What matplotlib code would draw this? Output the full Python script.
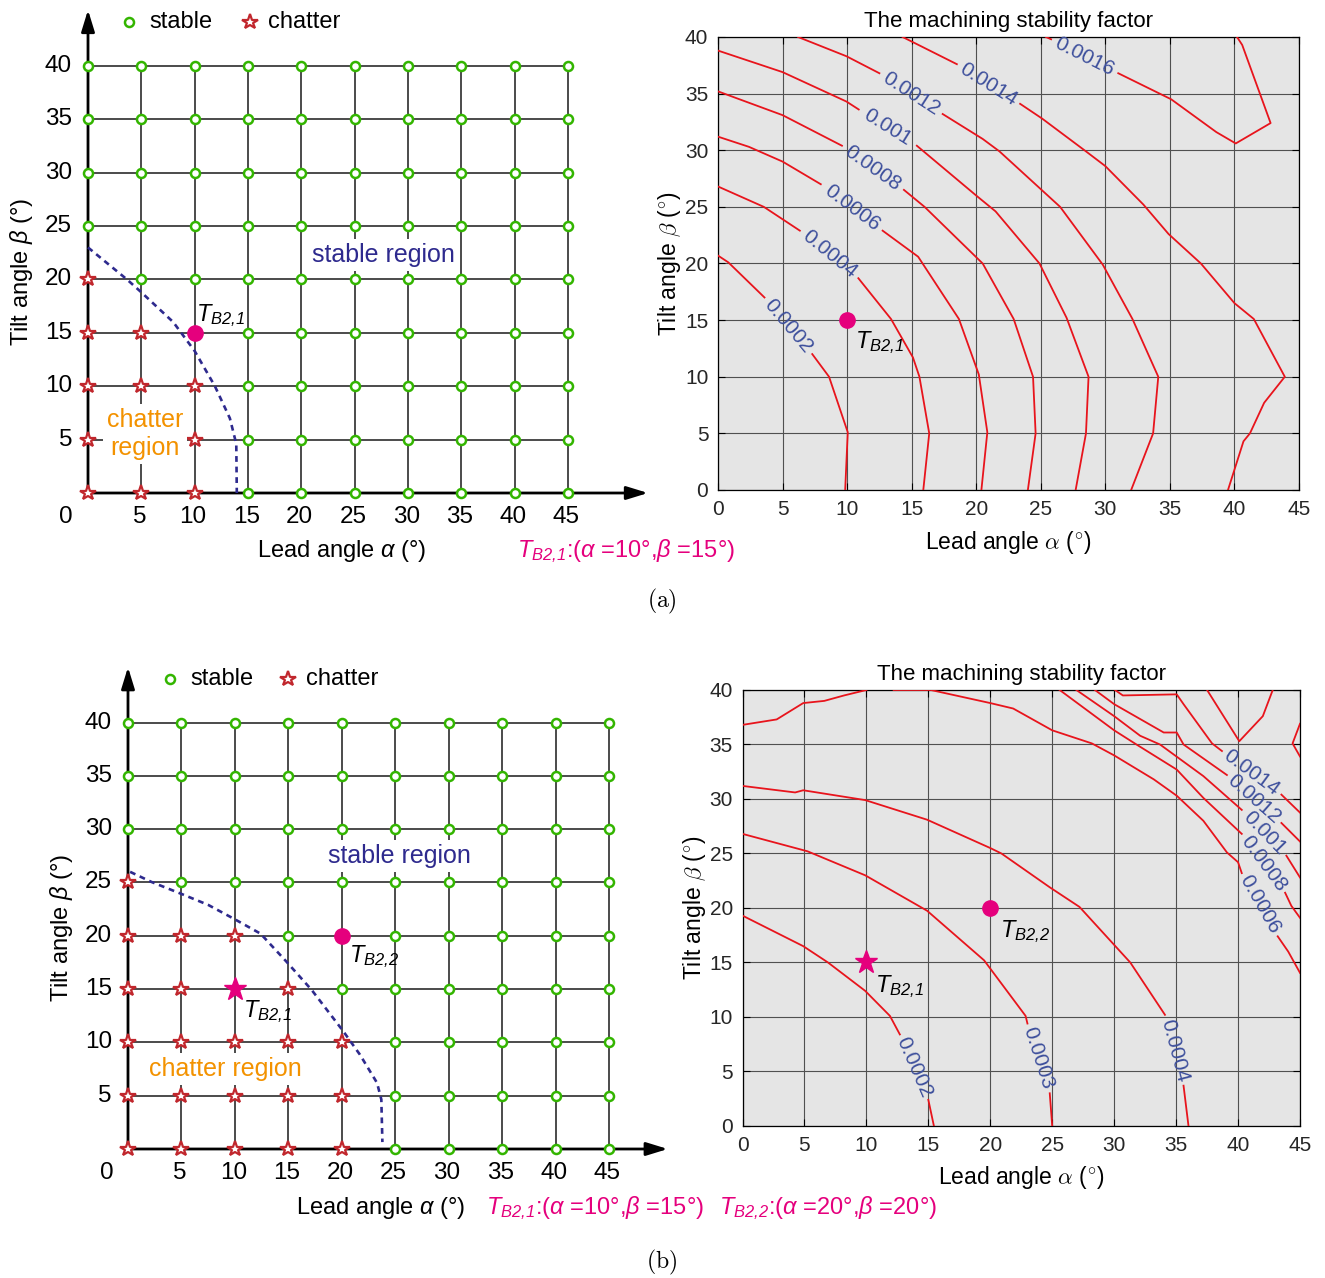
import matplotlib
matplotlib.use("Agg")
import matplotlib.pyplot as plt
import numpy as np

plt.rcParams["font.family"] = ["Liberation Sans", "DejaVu Sans"]
plt.rcParams["mathtext.fontset"] = "custom"
plt.rcParams["mathtext.rm"] = "Liberation Sans"
plt.rcParams["mathtext.it"] = "Liberation Sans:italic"
plt.rcParams["mathtext.sf"] = "Liberation Sans:italic"
plt.rcParams["mathtext.bf"] = "Liberation Sans:bold"

# ----------------------------------------------------------------- data
ALPHA = [0, 5, 10, 15, 20, 25, 30, 35, 40, 45]
BETA = [0, 5, 10, 15, 20, 25, 30, 35, 40]

# (a) cutting tests: chatter points, test point T_B2,1, stability boundary
A_CHATTER_ALPHA = [0, 0, 0, 0, 0, 5, 5, 5, 5, 10, 10, 10]
A_CHATTER_BETA = [0, 5, 10, 15, 20, 0, 5, 10, 15, 0, 5, 10]
A_TESTS = [(10, 15)]
A_BOUND_ALPHA = [0, 3.66, 5.0, 8.0, 10.0, 11.9, 13.3, 13.9, 13.95]
A_BOUND_BETA = [23.0, 20.0, 18.8, 16.0, 13.3, 10.0, 7.0, 4.6, 0]

# (b) cutting tests
B_CHATTER_ALPHA = [0, 0, 0, 0, 0, 0, 5, 5, 5, 5, 5, 10, 10, 10, 10, 15, 15, 15, 15, 20, 20, 20]
B_CHATTER_BETA = [0, 5, 10, 15, 20, 25, 0, 5, 10, 15, 20, 0, 5, 10, 20, 0, 5, 10, 15, 0, 5, 10]
B_TESTS = [(10, 15), (20, 20)]
B_BOUND_ALPHA = [0.2, 2.2, 5.07, 7.5, 9.9, 12.4, 14.8, 17.2, 20.1, 21.7, 23.3, 23.7, 23.8]
B_BOUND_BETA = [26.0, 25.05, 23.9, 22.9, 21.6, 20.2, 17.6, 14.9, 11.1, 8.85, 6.2, 4.65, 0.65]

nan = np.nan
# machining stability factor contour lines (label, alpha, beta); nan = label gap
A_CONTOURS = [
    ("0.0002", [0, 0.8, 3.6, nan, 7.3, 8.6, 10.05, 9.85],
               [20.7, 20.1, 17.0, nan, 12.0, 10.0, 5.1, 0]),
    ("0.0004", [0, 3.55, 6.34, nan, 10.87, 13.4, 15.1, 15.6, 16.36, 15.9],
               [26.8, 25.0, 22.9, nan, 18.7, 15.1, 11.7, 10.0, 5.0, 0]),
    ("0.0006", [0, 2.4, 5.0, 7.96, nan, 12.75, 15.5, 18.66, 20.2, 20.86, 20.4],
               [31.2, 30.3, 29.0, 27.0, nan, 22.9, 20.6, 15.1, 10.2, 5.1, 0]),
    ("0.0008", [0, 5.0, 9.6, nan, 14.4, 16.0, 20.5, 22.9, 24.4, 24.6, 24.0],
               [35.2, 33.1, 30.4, nan, 26.5, 25.0, 20.0, 15.1, 10.0, 5.0, 0]),
    ("0.001", [0, 5.0, 9.95, 10.9, nan, 15.4, 20.0, 21.5, 24.9, 27.0, 28.7, 28.5, 27.7],
              [38.8, 36.9, 34.3, 33.6, nan, 30.4, 26.0, 24.6, 20.0, 15.2, 10.0, 5.0, 0]),
    ("0.0012", [6.2, 9.95, 12.5, nan, 17.4, 20.5, 21.8, 26.5, 29.8, 32.1, 34.1, 33.7, 32.0],
               [40, 38.3, 36.8, nan, 33.2, 31.0, 29.9, 25.0, 19.9, 15.1, 10.0, 5.0, 0]),
    ("0.0014", [14.3, 18.5, nan, 23.4, 25.1, 28.5, 30.0, 32.95, 34.9, 37.4, 40.0, 41.5,
                43.9, 42.3, 41.2, 40.7, 39.5],
               [40, 37.6, nan, 34.1, 32.8, 29.9, 28.6, 25.2, 22.6, 20.0, 16.5, 15.1,
                10.0, 7.7, 5.0, 4.3, 0]),
    ("0.0016", [25.4, 25.8, nan, 31.0, 35.1, 38.6, 40.1, 42.8, 40.6, 40.2],
               [40, 39.8, nan, 36.8, 34.5, 31.6, 30.6, 32.4, 39.3, 40]),
]

B_CONTOURS = [
    ("0.0002", [0, 4.9, 6.9, 9.9, 11.9, 12.7, nan, 15.0, 15.45],
               [19.3, 16.5, 15.0, 12.4, 10.1, 8.4, nan, 2.4, 0]),
    ("0.0003", [0, 5.25, 9.9, 14.9, 19.5, 22.85, 23.0, nan, 24.8, 25.0],
               [26.8, 25.2, 23.0, 19.75, 15.2, 10.1, 9.4, nan, 3.0, 0]),
    ("0.0004", [0, 4.25, 4.9, 9.9, 14.9, 20.0, 20.9, 24.8, 27.2, 31.3, 34.1, nan, 35.6, 36.0],
               [31.2, 30.6, 30.8, 29.9, 28.1, 25.5, 25.0, 21.9, 20.1, 15.0, 10.2, nan, 3.7, 0]),
    (None, [0, 2.76, 4.9, 6.6, 8.2, 10.0],
           [36.8, 37.3, 38.8, 39.0, 39.5, 40]),
    ("0.0006", [12.2, 15.2, 20.0, 21.85, 25.0, 28.2, 30.0, 33.2, 35.05, 37.2, 39.1, 40.0, 40.3,
                nan, 43.2, 44.05, 45],
               [40, 40, 38.8, 38.3, 36.3, 35.1, 34.0, 31.8, 30.3, 28.0, 25.1, 24.2, 23.2,
                nan, 17.4, 16.0, 14.05]),
    ("0.0008", [25.6, 30.0, 31.8, 35.05, 37.2, 40.3, nan, 43.8, 44.3, 45],
               [40, 36.3, 35.0, 32.7, 30.1, 26.8, nan, 21.4, 20.2, 19.1]),
    ("0.001", [26.95, 30.0, 32.1, 33.7, 37.2, 40.3, nan, 43.9, 45],
              [40, 37.6, 35.8, 35.0, 32.1, 29.0, nan, 24.8, 22.8]),
    ("0.0012", [28.45, 30.0, 34.0, 35.05, 35.6, 39.1, nan, 43.5, 45],
               [40, 38.7, 36.1, 36.1, 35.0, 32.2, nan, 27.8, 26.1]),
    ("0.0014", [30.07, 30.7, 35.05, 35.6, 37.9, 38.7, nan, 43.5, 45],
               [40, 39.5, 39.6, 38.7, 35.1, 34.4, nan, 30.4, 28.75]),
    (None, [37.5, 40.1, 42.0, 42.8], [40, 35.3, 37.6, 40]),
    (None, [45, 44.7, 44.4, 45], [36.9, 36.0, 35.1, 33.9]),
]

GREEN = "#33b500"
STAR_RED = "#c1272d"
MAGENTA = "#e5007d"
NAVY = "#2e2a8e"
ORANGE = "#f39200"
RED = "#e8141c"
LABEL_BLUE = "#3d4f9c"

T21 = r"$\mathsf{T}_{\mathsf{B2{,}1}}$"
T22 = r"$\mathsf{T}_{\mathsf{B2{,}2}}$"

fig = plt.figure(figsize=(13.25, 12.78), dpi=100)


def grid_panel(rect, chatter_a, chatter_b, tests, bound_a, bound_b, lay):
    ax = fig.add_axes(rect)
    ax.set_xlim(0, 45)
    ax.set_ylim(0, 40)
    ax.axis("off")

    for a in ALPHA[1:]:
        ax.plot([a, a], [0, 40], color="#1a1a1a", lw=1.1, zorder=1, clip_on=False)
    for b in BETA[1:]:
        ax.plot([0, 45], [b, b], color="#1a1a1a", lw=1.1, zorder=1, clip_on=False)
    arrow = dict(arrowstyle="-|>,head_length=0.65,head_width=0.2", color="k", lw=2,
                 mutation_scale=20, shrinkA=0, shrinkB=0)
    ax.annotate("", xy=(lay["xarrow"], 0), xytext=(0, 0), arrowprops=arrow,
                annotation_clip=False, zorder=2)
    ax.annotate("", xy=(0, lay["yarrow"]), xytext=(0, 0), arrowprops=arrow,
                annotation_clip=False, zorder=2)

    ax.plot(bound_a, bound_b, color=NAVY, lw=1.9, ls=(0, (2.2, 1.8)), zorder=2,
            clip_on=False)

    chatter = set(zip(chatter_a, chatter_b))
    special = set(tests)
    sa, sb = [], []
    for a in ALPHA:
        for b in BETA:
            if (a, b) not in chatter and (a, b) not in special:
                sa.append(a)
                sb.append(b)
    ax.plot(sa, sb, "o", ms=6.5, mfc="white", mec=GREEN, mew=1.8, zorder=4, clip_on=False)
    ax.plot(chatter_a, chatter_b, "*", ms=11.5, mfc="white", mec=STAR_RED, mew=1.6,
            zorder=4, clip_on=False)

    # legend
    lx, ly = lay["legend"]
    ax.plot([lx], [ly], "o", ms=6.5, mfc="white", mec=GREEN, mew=1.8, clip_on=False)
    ax.text(lx + 1.95, ly, "stable", fontsize=17, va="center", ha="left")
    sx = lay["legend_star"]
    ax.plot([sx], [ly], "*", ms=11.5, mfc="white", mec=STAR_RED, mew=1.6, clip_on=False)
    ax.text(sx + 1.7, ly, "chatter", fontsize=17, va="center", ha="left")

    # ticks
    for a in ALPHA[1:]:
        ax.text(a - 0.15, -2.25, str(a), fontsize=17.5, ha="center", va="center")
    ax.text(lay["zero"], -2.25, "0", fontsize=17.5, ha="center", va="center")
    for b in BETA[1:]:
        ax.text(-1.5, b, str(b), fontsize=17.5, ha="right", va="center")

    ax.text(-6.2, 20.7, r"Tilt angle $\beta$ (°)", fontsize=17, rotation=90,
            ha="center", va="center")
    ax.text(lay["xlabel"][0], lay["xlabel"][1], r"Lead angle $\alpha$ (°)",
            fontsize=17, ha="center", va="center")

    box = dict(boxstyle="square,pad=0.15", fc="white", ec="none")
    ax.text(*lay["stable"], "stable region", fontsize=18, color=NAVY,
            ha="center", va="center", bbox=box, zorder=5)
    ax.text(*lay["chatter"], lay["chatter_txt"], fontsize=18, color=ORANGE,
            ha="center", va="center", bbox=box, zorder=5, linespacing=1.2)
    return ax


# ---------------------------------------------------------------- (a) left
axA = grid_panel([0.06642, 0.61424, 0.36226, 0.33412],
                 A_CHATTER_ALPHA, A_CHATTER_BETA, A_TESTS, A_BOUND_ALPHA, A_BOUND_BETA,
                 dict(xarrow=52.5, yarrow=45.25, legend=(3.84, 44.1), legend_star=15.2,
                      zero=-2.06, xlabel=(23.8, -5.43), stable=(27.66, 22.3),
                      chatter=(5.34, 5.53), chatter_txt="chatter\nregion"))
ta, tb = A_TESTS[0]
axA.plot([ta], [tb], "o", ms=11, color=MAGENTA, zorder=6, clip_on=False)
axA.text(ta + 0.15, tb + 1.6, T21, fontsize=17, ha="left", va="center", zorder=6)
axA.text(40.2, -5.43, T21 + r":($\alpha$ =10°,$\beta$ =15°)", fontsize=17,
         color=MAGENTA, ha="left", va="center")

# ---------------------------------------------------------------- (b) left
axB = grid_panel([0.09660, 0.10094, 0.36302, 0.33365],
                 B_CHATTER_ALPHA, B_CHATTER_BETA, B_TESTS, B_BOUND_ALPHA, B_BOUND_BETA,
                 dict(xarrow=50.5, yarrow=45.2, legend=(3.93, 44.1), legend_star=14.97,
                      zero=-1.96, xlabel=(23.67, -5.53), stable=(25.4, 27.5),
                      chatter=(9.07, 7.5), chatter_txt="chatter region"))
(t1a, t1b), (t2a, t2b) = B_TESTS
axB.plot([t1a], [t1b], "*", ms=17, color=MAGENTA, zorder=6, clip_on=False)
axB.plot([t2a], [t2b], "o", ms=11, color=MAGENTA, zorder=6, clip_on=False)
axB.text(t1a + 0.75, t1b - 2.1, T21, fontsize=17, ha="left", va="center", zorder=6)
axB.text(t2a + 0.65, t2b - 1.95, T22, fontsize=17, ha="left", va="center", zorder=6)
axB.text(33.5, -5.53, T21 + r":($\alpha$ =10°,$\beta$ =15°)", fontsize=17,
         color=MAGENTA, ha="left", va="center")
axB.text(55.3, -5.53, T22 + r":($\alpha$ =20°,$\beta$ =20°)", fontsize=17,
         color=MAGENTA, ha="left", va="center")


def contour_panel(rect, contours, xlab_y, ylab_x):
    ax = fig.add_axes(rect)
    ax.set_facecolor("#e5e5e5")
    ax.set_xlim(0, 45)
    ax.set_ylim(0, 40)
    ax.set_xticks(ALPHA)
    ax.set_yticks(BETA)
    ax.set_axisbelow(True)
    ax.grid(True, color="#505050", lw=0.8)
    ax.tick_params(direction="in", length=5, width=0.8, labelsize=15, pad=7,
                   top=True, right=True, labelcolor="#262626")
    for sp in ax.spines.values():
        sp.set_linewidth(0.9)
    for label, xs, ys in contours:
        xs = np.array(xs, dtype=float)
        ys = np.array(ys, dtype=float)
        ax.plot(xs, ys, color=RED, lw=1.3, zorder=3)
        if label is None:
            continue
        i = int(np.flatnonzero(np.isnan(xs))[0])
        p0 = ax.transData.transform((xs[i - 1], ys[i - 1]))
        p1 = ax.transData.transform((xs[i + 1], ys[i + 1]))
        ang = np.degrees(np.arctan2(p1[1] - p0[1], p1[0] - p0[0]))
        if ang > 90:
            ang -= 180
        elif ang < -90:
            ang += 180
        ax.text((xs[i - 1] + xs[i + 1]) / 2, (ys[i - 1] + ys[i + 1]) / 2, label,
                rotation=ang, rotation_mode="anchor", ha="center", va="center",
                color=LABEL_BLUE, fontsize=15, zorder=4)
    ax.set_title("The machining stability factor", fontsize=16, pad=7)
    ax.text(0.5, xlab_y, r"Lead angle $\alpha$ (${}^{\circ}$)", transform=ax.transAxes,
            fontsize=16.5, ha="center", va="center", math_fontfamily="cm")
    ax.text(ylab_x, 0.5, r"Tilt angle $\beta$ (${}^{\circ}$)", transform=ax.transAxes,
            fontsize=16.5, ha="center", va="center", rotation=90, math_fontfamily="cm")
    return ax


# ---------------------------------------------------------------- (a) right
axC = contour_panel([0.54189, 0.61659, 0.43849, 0.35446], A_CONTOURS, -0.117, -0.084)
axC.plot([ta], [tb], "o", ms=11, color=MAGENTA, zorder=6)
axC.text(ta + 0.6, tb - 2.0, T21, fontsize=17, ha="left", va="center", zorder=6)

# ---------------------------------------------------------------- (b) right
axD = contour_panel([0.56038, 0.11894, 0.42075, 0.34116], B_CONTOURS, -0.117, -0.086)
axD.plot([t1a], [t1b], "*", ms=17, color=MAGENTA, zorder=6)
axD.plot([t2a], [t2b], "o", ms=11, color=MAGENTA, zorder=6)
axD.text(t1a + 0.7, t1b - 2.2, T21, fontsize=17, ha="left", va="center", zorder=6)
axD.text(t2a + 0.8, t2b - 2.2, T22, fontsize=17, ha="left", va="center", zorder=6)

fig.text(0.4996, 0.5297, r"$\mathrm{(a)}$", math_fontfamily="cm", fontsize=17,
         ha="center", va="center")
fig.text(0.4996, 0.0125, r"$\mathrm{(b)}$", math_fontfamily="cm", fontsize=17,
         ha="center", va="center")

fig.savefig("out.png", dpi=100)
